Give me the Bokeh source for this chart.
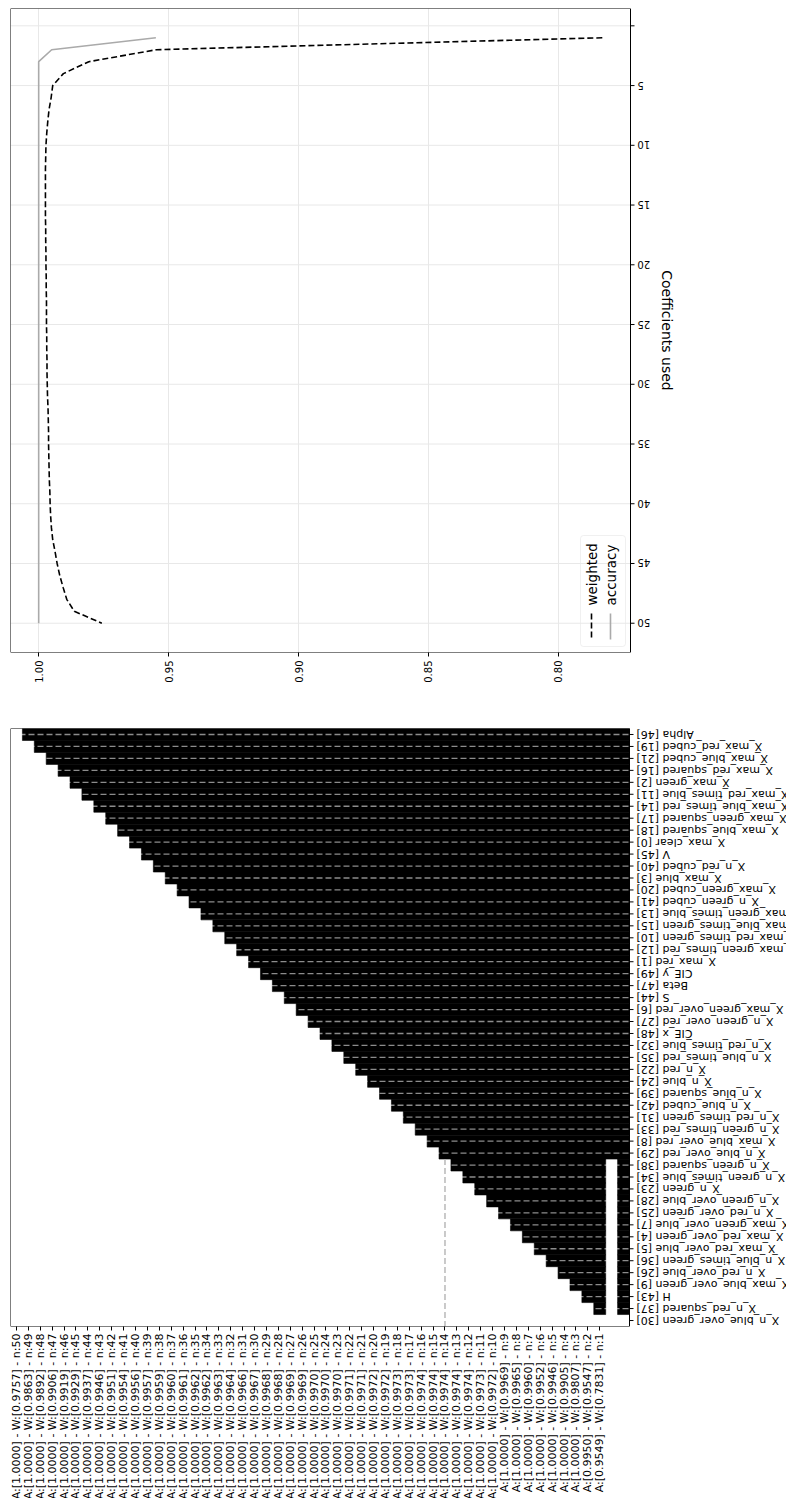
import math
from bokeh.plotting import figure
from bokeh.layouts import column
from bokeh.models import Range1d, FixedTicker, Label, BoxAnnotation
from bokeh.core.properties import value
from bokeh.embed import file_html
from bokeh.resources import INLINE

# ---------------- data ----------------
n_used = list(range(1, 51))
weighted = [0.7831, 0.9547, 0.9807, 0.9905, 0.9946, 0.9952, 0.9960, 0.9965, 0.9969, 0.9972,
            0.9973, 0.9974, 0.9974, 0.9974, 0.9974, 0.9974, 0.9973, 0.9973, 0.9972, 0.9972,
            0.9971, 0.9971, 0.9970, 0.9970, 0.9970, 0.9969, 0.9969, 0.9968, 0.9968, 0.9967,
            0.9966, 0.9964, 0.9963, 0.9962, 0.9962, 0.9961, 0.9960, 0.9959, 0.9957, 0.9956,
            0.9954, 0.9951, 0.9946, 0.9937, 0.9929, 0.9919, 0.9906, 0.9892, 0.9863, 0.9757]
accuracy = [0.9549, 0.9950, 1.0000, 1.0000, 1.0000, 1.0000, 1.0000, 1.0000, 1.0000, 1.0000,
            1.0000, 1.0000, 1.0000, 1.0000, 1.0000, 1.0000, 1.0000, 1.0000, 1.0000, 1.0000,
            1.0000, 1.0000, 1.0000, 1.0000, 1.0000, 1.0000, 1.0000, 1.0000, 1.0000, 1.0000,
            1.0000, 1.0000, 1.0000, 1.0000, 1.0000, 1.0000, 1.0000, 1.0000, 1.0000, 1.0000,
            1.0000, 1.0000, 1.0000, 1.0000, 1.0000, 1.0000, 1.0000, 1.0000, 1.0000, 1.0000]
value_ticks = [0.80, 0.85, 0.90, 0.95, 1.00]
count_ticks = [0, 5, 10, 15, 20, 25, 30, 35, 40, 45, 50]
count_tick_labels = ["", "5", "10", "15", "20", "25", "30", "35", "40", "45", "50"]

# features in order of elimination (first removed at top)
features = ["Alpha [46]", "X_max_red_cubed [19]", "X_max_blue_cubed [21]", "X_max_red_squared [16]",
            "X_max_green [2]", "X_max_red_times_blue [11]", "X_max_blue_times_red [14]",
            "X_max_green_squared [17]", "X_max_blue_squared [18]", "X_max_clear [0]", "V [45]",
            "X_n_red_cubed [40]", "X_max_blue [3]", "X_max_green_cubed [20]", "X_n_green_cubed [41]",
            "X_max_green_times_blue [13]", "X_max_blue_times_green [15]", "X_max_red_times_green [10]",
            "X_max_green_times_red [12]", "X_max_red [1]", "CIE_y [49]", "Beta [47]", "S [44]",
            "X_max_green_over_red [6]", "X_n_green_over_red [27]", "CIE_x [48]",
            "X_n_red_times_blue [32]", "X_n_blue_times_red [35]", "X_n_red [22]", "X_n_blue [24]",
            "X_n_blue_squared [39]", "X_n_blue_cubed [42]", "X_n_red_times_green [31]",
            "X_n_green_times_red [33]", "X_max_blue_over_red [8]", "X_n_blue_over_red [29]",
            "X_n_green_squared [38]", "X_n_green_times_blue [34]", "X_n_green [23]",
            "X_n_green_over_blue [28]", "X_n_red_over_green [25]", "X_max_green_over_blue [7]",
            "X_max_red_over_green [4]", "X_max_red_over_blue [5]", "X_n_blue_times_green [36]",
            "X_n_red_over_blue [26]", "X_max_blue_over_green [9]", "H [43]", "X_n_red_squared [37]",
            "X_n_blue_over_green [30]"]
best_n = 14
summary_n = [best_n, 1]   # extra summary columns after the n:1 column

FONT = "DejaVu Sans"
N = len(n_used)
F = len(features)
W = 786
LEFT = 10

# ---------------- top: scores vs coefficients ----------------
allv = weighted + accuracy
vlo, vhi = min(allv), max(allv)
vm = 0.05 * (vhi - vlo)
nlo, nhi = min(n_used), max(n_used)
nm = 0.05 * (nhi - nlo)
X0, X1 = vhi + vm, vlo - vm          # box left / right values
Y0, Y1 = nlo - nm, nhi + nm          # box top / bottom counts
BOX_W1, FH1 = 620, 644
FW1 = W - LEFT
dpx1 = (X1 - X0) / BOX_W1
dpy1 = (Y1 - Y0) / FH1


def tx(px):
    return X0 + (px - LEFT) * dpx1


def ty(py):
    return Y0 + (py - 8) * dpy1


p1 = figure(frame_width=FW1, frame_height=FH1, x_range=Range1d(X0, tx(W)),
            y_range=Range1d(Y1, Y0), output_backend="svg", toolbar_location=None,
            y_axis_location=None, min_border_left=LEFT, min_border_top=8, min_border_right=0,
            min_border_bottom=68, background_fill_color="white", border_fill_color="white")
p1.outline_line_color = None
p1.ygrid.grid_line_color = None
p1.xgrid.grid_line_color = "#e8e8e8"

# horizontal grid lines inside the box
p1.segment(x0=[X0] * len(count_ticks), y0=count_ticks, x1=[X1] * len(count_ticks), y1=count_ticks,
           line_color="#e8e8e8", line_width=1)

legend_box = BoxAnnotation(left=tx(580), right=tx(625), top=ty(535), bottom=ty(646),
                           level="underlay", fill_color="white", fill_alpha=1.0,
                           line_color="#cccccc", line_width=1, border_radius=3)
p1.add_layout(legend_box)

p1.line(weighted, n_used, line_color="black", line_width=1.6, line_dash="6 3")
p1.line(accuracy, n_used, line_color="#aaaaaa", line_width=1.6)

# box
p1.quad(left=[X0], right=[X1], top=[Y0], bottom=[Y1], fill_color=None, line_color="black",
        line_width=1)

p1.xaxis.ticker = FixedTicker(ticks=value_ticks)
p1.xaxis.major_label_overrides = {t: "%.2f" % t for t in value_ticks}
p1.xaxis.major_label_orientation = math.pi / 2
p1.xaxis.major_label_text_font = FONT
p1.xaxis.major_label_text_font_size = "10px"
p1.xaxis.major_label_text_color = "black"
p1.xaxis.axis_line_color = None
p1.xaxis.major_tick_line_color = "black"
p1.xaxis.minor_tick_line_color = None
p1.xaxis.major_tick_in = 0
p1.xaxis.major_tick_out = 4
p1.xaxis.major_label_standoff = 4

# right-hand count axis (ticks, upside-down labels, title)
nt = len(count_ticks)
p1.segment(x0=[X1] * nt, y0=count_ticks, x1=[tx(LEFT + BOX_W1 + 4)] * nt, y1=count_ticks,
           line_color="black", line_width=1)
p1.text(x=[tx(LEFT + BOX_W1 + 7)] * nt, y=count_ticks, text=count_tick_labels, angle=math.pi,
        text_align="right", text_baseline="middle", text_font=value(FONT),
        text_font_size="10px", text_color="black")
p1.text(x=[tx(666)], y=[(Y0 + Y1) / 2], text=["Coefficients used"], angle=-math.pi / 2,
        text_align="center", text_baseline="middle", text_font=value(FONT),
        text_font_size="14px", text_color="black")

# legend
p1.segment(x0=[tx(591)], y0=[ty(613)], x1=[tx(591)], y1=[ty(639)], line_color="black",
           line_width=1.6, line_dash="6 3")
p1.segment(x0=[tx(610)], y0=[ty(613)], x1=[tx(610)], y1=[ty(639)], line_color="#aaaaaa",
           line_width=1.6)
for txt, px in (("weighted", 591), ("accuracy", 610)):
    p1.add_layout(Label(x=tx(px), y=ty(605), text=txt, angle=math.pi / 2, text_align="left",
                        text_baseline="middle", text_font=FONT, text_font_size="13.5px",
                        text_color="black"))

# ---------------- bottom: feature elimination map ----------------
ncols = N + len(summary_n)
BOX_W2, FH2 = 619, 598
FW2 = W - LEFT
dpx2 = ncols / BOX_W2


def cx(px):
    return -0.5 + (px - LEFT) * dpx2


p2 = figure(frame_width=FW2, frame_height=FH2, x_range=Range1d(-0.5, cx(W)),
            y_range=Range1d(F - 0.5, -0.5), output_backend="svg", toolbar_location=None,
            y_axis_location=None, min_border_left=LEFT, min_border_top=8, min_border_right=0,
            min_border_bottom=172, background_fill_color="white", border_fill_color="white")
p2.outline_line_color = None
p2.xgrid.grid_line_color = None
p2.ygrid.grid_line_color = None


def is_black(r, k):
    if k < N:
        return k > r
    keep = summary_n[k - N]
    return r < F - keep


ql, qr, qt, qb = [], [], [], []
for r in range(F):
    k = 0
    while k < ncols:
        if is_black(r, k):
            s = k
            while k < ncols and is_black(r, k):
                k += 1
            ql.append(s - 0.5)
            qr.append(k - 0.5)
            qt.append(r - 0.5)
            qb.append(r + 0.5)
        else:
            k += 1
p2.quad(left=ql, right=qr, top=qt, bottom=qb, fill_color="black", line_color="black",
        line_width=0.6)

rows = list(range(F))
p2.segment(x0=[-0.5] * F, y0=rows, x1=[ncols - 0.5] * F, y1=rows, line_color="white",
           line_alpha=0.55, line_width=1.3, line_dash="6 3")

best_col = N - best_n
p2.segment(x0=[best_col], y0=[F - best_n - 0.5], x1=[best_col], y1=[F - 0.5],
           line_color="#b4b4b4", line_width=1.4, line_dash="6 3")

# box
p2.quad(left=[-0.5], right=[ncols - 0.5], top=[-0.5], bottom=[F - 0.5], fill_color=None,
        line_color="black", line_width=1)

col_labels = {}
for k in range(N):
    n = N - k
    i = n_used.index(n)
    col_labels[k] = "A:[%.4f] - W:[%.4f] - n:%d" % (accuracy[i], weighted[i], n)
p2.xaxis.ticker = FixedTicker(ticks=list(range(N)))
p2.xaxis.major_label_overrides = col_labels
p2.xaxis.major_label_orientation = math.pi / 2
p2.xaxis.major_label_text_font = FONT
p2.xaxis.major_label_text_font_size = "11px"
p2.xaxis.major_label_text_color = "black"
p2.xaxis.axis_line_color = None
p2.xaxis.major_tick_line_color = "black"
p2.xaxis.minor_tick_line_color = None
p2.xaxis.major_tick_in = 0
p2.xaxis.major_tick_out = 4
p2.xaxis.major_label_standoff = 3

# right-hand feature axis
box_right = ncols - 0.5
p2.segment(x0=[box_right] * F, y0=rows, x1=[cx(LEFT + BOX_W2 + 4)] * F, y1=rows,
           line_color="black", line_width=1)
p2.text(x=[cx(LEFT + BOX_W2 + 7)] * F, y=rows, text=features, angle=math.pi,
        text_align="right", text_baseline="middle", text_font=value(FONT),
        text_font_size="11px", text_color="black")

layout = column(p1, p2, spacing=0)
open("out.html", "w").write(file_html(layout, INLINE))
